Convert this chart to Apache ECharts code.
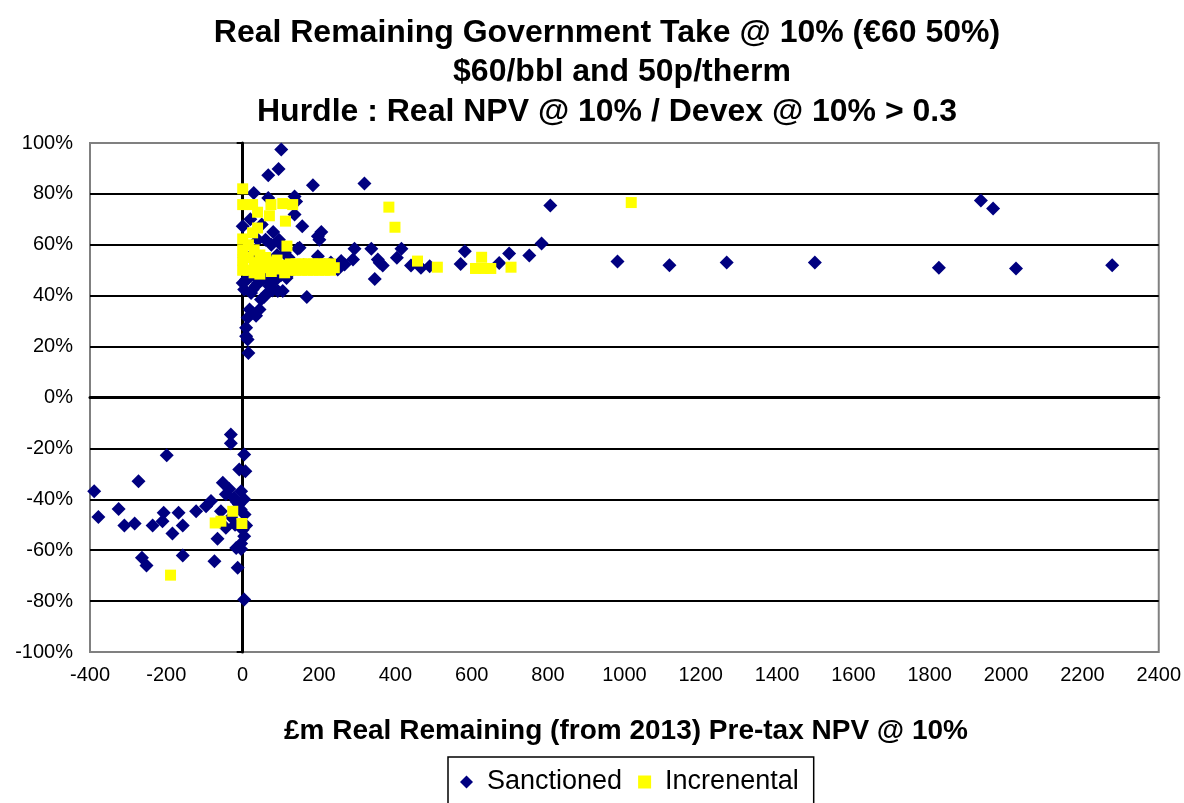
<!DOCTYPE html>
<html>
<head>
<meta charset="utf-8">
<script src="https://cdn.jsdelivr.net/npm/echarts@6/dist/echarts.min.js"></script>
<style>
html,body{margin:0;padding:0;background:#fff;}
#chart{width:1184px;height:803px;}
</style>
</head>
<body>
<div id="chart"></div>
<script>
var titleLines = [
  'Real Remaining Government Take @ 10% (€60 50%)',
  '$60/bbl and 50p/therm',
  'Hurdle : Real NPV @ 10% / Devex @ 10% > 0.3'
];
var xAxisTitle = '£m Real Remaining (from 2013) Pre-tax NPV @ 10%';
var seriesNames = ['Sanctioned', 'Increnental'];
var xTicks = {min: -400, max: 2400, step: 200};
var yTicks = {min: -100, max: 100, step: 20};

// [£m NPV, government take %]
var sanctioned = [
  [806,75.4],[1934,77.4],[1966,74.3],[982,53.4],[1118,52],[1268,53],[1499,53],[1824,51],[2026,50.7],[2278,52],
  [783,60.5],[751,55.8],[698,56.6],[672,52.8],[582,57.5],[571,52.5],[490,51.6],[467,51],[441,51.9],[416,58.4],
  [404,54.9],[367,51.9],[359,52.9],[354,54.2],[346,46.6],[337,58.4],[293,58.4],[289,54.2],[267,52.3],[258,53.6],
  [249,50.3],[231,53],[319,84.1],[184,83.4],
  [101,97.4],[94,89.8],[67,87.3],[29,80.4],[67,78.4],[136,79],[140,77],[136,71.9],[156,67.3],[206,65],
  [197,63.4],[201,62],[0,67.3],[144,58.4],[149,58.8],[197,55.5],
  [20,70],[50,68],[80,65],[95,62],[60,62],[75,60],[100,60],[40,62],[110,57],[90,56],[30,57],[120,55],[5,55],
  [60,50],[100,48],[130,50],[160,52],[180,51],[215,52],[235,51],
  [9,46.4],[13,46.6],[52,46.4],[61,47],[0,45],[4,42.4],[26,42.4],[22,41.1],[70,43.8],[78,42],[92,41.8],[105,41.8],
  [30,48],[40,45],[85,46],[115,47],[35,44],[64,41],
  [48,38.5],[56,39.5],[168,39.5],[18,34.6],[44,34.6],[35,32.1],[26,33.3],[13,31.3],[9,27.4],[9,24.1],[13,22.8],[15,17.5],
  [-389,-36.8],[-378,-47],[-325,-43.8],[-310,-50.3],[-283,-49.5],[-273,-32.9],[-199,-22.7],[-236,-50.3],[-207,-45.3],
  [-210,-48.6],[-168,-45.3],[-157,-50.3],[-184,-53.4],[-264,-63],[-252,-66],[-157,-62.1],[-122,-44.7],[-96,-42.7],
  [-83,-40.7],[-52,-33.5],[-35,-36],[-44,-38],[-22,-39.4],[-74,-64.3],[-66,-55.5],[-31,-14.5],[-31,-18],[4,-22.4],
  [-9,-28.3],[7,-29],[-4,-36.8],[4,-40],[-16,-41],[-57,-44.7],[-44,-51.2],[9,-50.3],[4,-54.5],[-4,-57.4],[-17,-59.1],
  [-4,-59.5],[-13,-66.9],[4,-79.4],[-5,-44],[5,-46],[0,-52],[-30,-47],[-10,-42],[-20,-50]
];
var incremental = [
  [0,82],[0,75.8],[26,75.8],[74,75.8],[105,76.2],[131,75.8],[39,72.8],[70,71.4],[112,69.3],[39,66.6],[0,62.3],
  [26,64.7],[116,59.5],[0,58],[0,54],[0,50],[15,60],[15,55],[15,50],[30,58],[30,53],[30,49],[45,56],[45,52],
  [45,48.5],[60,55],[60,51],[75,53],[75,49.5],[90,54],[90,50.5],[105,52],[110,49],[125,52.5],[125,50],[140,52.5],
  [140,50],[155,52.5],[155,50],[170,52.5],[170,50],[185,52.5],[185,50],[200,52.5],[200,50],[215,52.5],[215,50],
  [230,52.5],[230,50],[240,51],
  [383,74.8],[399,66.9],[458,53.6],[510,51.2],[626,55.1],[610,50.7],[632,50.7],[650,50.7],[703,51.2],[1018,76.6],
  [-189,-69.8],[-72,-49.3],[-57,-48.6],[-26,-44.7],[-2,-49.5]
];

var FONT = "'Liberation Sans', Arial, sans-serif";
var chart = echarts.init(document.getElementById('chart'), null, {renderer: 'canvas'});
var gridColors = [];
for (var v = yTicks.min; v <= yTicks.max; v += yTicks.step) {
  gridColors.push((v === yTicks.min || v === yTicks.max) ? '#808080' : '#000000');
}
chart.setOption({
  animation: false,
  backgroundColor: '#ffffff',
  graphic: [
    {type: 'text', x: 607, y: 33, style: {text: titleLines[0], font: 'bold 32px ' + FONT, fill: '#000', textAlign: 'center', textVerticalAlign: 'middle'}},
    {type: 'text', x: 622, y: 72, style: {text: titleLines[1], font: 'bold 32px ' + FONT, fill: '#000', textAlign: 'center', textVerticalAlign: 'middle'}},
    {type: 'text', x: 607, y: 112, style: {text: titleLines[2], font: 'bold 32px ' + FONT, fill: '#000', textAlign: 'center', textVerticalAlign: 'middle'}},
    {type: 'text', x: 626, y: 731, style: {text: xAxisTitle, font: 'bold 28px ' + FONT, fill: '#000', textAlign: 'center', textVerticalAlign: 'middle'}}
  ],
  grid: {left: 90, top: 143, right: 24, bottom: 151, show: true, borderColor: '#808080', borderWidth: 2, backgroundColor: '#fff'},
  legend: {
    left: 448, top: 757, orient: 'horizontal',
    itemWidth: 13, itemHeight: 13, itemGap: 16,
    padding: [10, 15, 10, 12],
    borderColor: '#000', borderWidth: 1.5, backgroundColor: '#fff',
    textStyle: {fontSize: 27, fontFamily: FONT, color: '#000', padding: [0, 0, 0, 9], lineHeight: 30},
    data: [{name: seriesNames[0], icon: 'diamond'}, {name: seriesNames[1], icon: 'rect'}]
  },
  xAxis: [
    {type: 'value', min: xTicks.min, max: xTicks.max, interval: xTicks.step, position: 'bottom',
     axisLine: {show: false, onZero: false}, axisTick: {show: false},
     axisLabel: {color: '#000', fontSize: 20, fontFamily: FONT, margin: 13, formatter: function (v) { return String(v); }},
     splitLine: {show: false}},
    {type: 'value', min: xTicks.min, max: xTicks.max, interval: xTicks.step, position: 'top',
     axisLine: {show: true, onZero: true, lineStyle: {color: '#000', width: 3}},
     axisTick: {show: false}, axisLabel: {show: false}, splitLine: {show: false}}
  ],
  yAxis: [
    {type: 'value', min: yTicks.min, max: yTicks.max, interval: yTicks.step, position: 'left',
     axisLine: {show: false, onZero: false}, axisTick: {show: false},
     axisLabel: {color: '#000', fontSize: 20, fontFamily: FONT, margin: 17, formatter: '{value}%'},
     splitLine: {show: true, lineStyle: {color: gridColors, width: 2}}},
    {type: 'value', min: yTicks.min, max: yTicks.max, interval: yTicks.step, position: 'right',
     axisLine: {show: true, onZero: true, lineStyle: {color: '#000', width: 3}},
     axisTick: {show: true, inside: true, length: 6, lineStyle: {color: '#000', width: 2}},
     axisLabel: {show: false}, splitLine: {show: false}}
  ],
  series: [
    {name: seriesNames[0], type: 'scatter', xAxisIndex: 0, yAxisIndex: 0, symbol: 'diamond', symbolSize: 14,
     itemStyle: {color: '#000080', opacity: 1}, data: sanctioned, z: 3},
    {name: seriesNames[1], type: 'scatter', xAxisIndex: 0, yAxisIndex: 0, symbol: 'rect', symbolSize: 11,
     itemStyle: {color: '#ffff00', opacity: 1}, data: incremental, z: 4}
  ]
});
</script>
</body>
</html>
